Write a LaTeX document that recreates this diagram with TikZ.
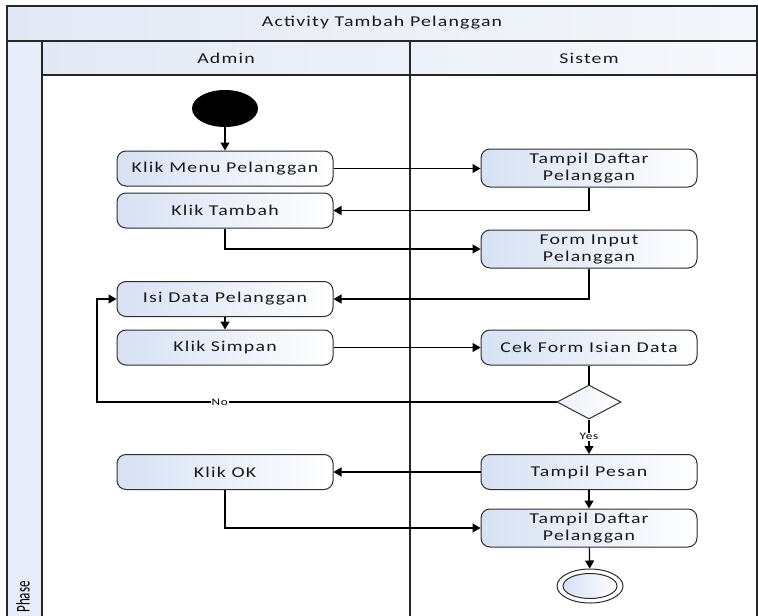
\documentclass[tikz,border=0pt]{standalone}
\usepackage{fontspec}
\usepackage{graphicx}
\setmainfont{Carlito}[FakeStretch=1.32, LetterSpace=8]
\newfontfamily\plainfont{Carlito}
\usetikzlibrary{arrows.meta,shapes.geometric}

\definecolor{actfill}{RGB}{214,225,243}
\definecolor{bandfill}{RGB}{226,233,245}
\definecolor{phasefill}{RGB}{230,237,248}
\definecolor{edgegray}{RGB}{45,45,45}
\definecolor{inkgray}{RGB}{25,25,25}

\tikzset{
  act/.style={draw=edgegray, line width=1pt, rounded corners=9pt,
    minimum width=216pt, minimum height=35pt, inner sep=2pt,
    left color=actfill, right color=white, align=center, text=inkgray,
    font=\fontsize{15}{17}\selectfont},
  flow/.style={line width=1.2pt, -{Triangle[length=8pt,width=9pt]}},
  plain/.style={line width=1.2pt},
  frameline/.style={line width=1.4pt, draw=black!85},
  lanetitle/.style={font=\fontsize{15}{17}\selectfont, text=inkgray},
  guard/.style={font=\fontsize{10}{12}\selectfont, fill=white, inner sep=1pt}
}

\begin{document}
\begin{tikzpicture}[x=1pt,y=-1pt]
\useasboundingbox (0,0) rectangle (758,616);
\begin{scope}
\clip (0,0) rectangle (758,616);

% swimlane frame and headers
\path[left color=bandfill, right color=white!60!bandfill] (7,6) rectangle (757,41);
\path[left color=bandfill, right color=white!70!bandfill] (42,41) rectangle (757,75);
\path[fill=phasefill] (7,41) rectangle (42,620);
\draw[frameline] (7,620) -- (7,6) -- (757,6) -- (757,620);
\draw[frameline] (7,41) -- (757,41);
\draw[frameline] (42,75) -- (757,75);
\draw[frameline] (42,41) -- (42,620);
\draw[frameline] (410,41) -- (410,620);

\node[lanetitle] (title) at (382,23) {Activity Tambah Pelanggan};
\node[lanetitle] (admin) at (226,58) {Admin};
\node[lanetitle] (sistem) at (589,58) {Sistem};
\node[rotate=90, font=\plainfont\fontsize{13}{15}\selectfont, inner sep=0pt] (phase) at (23,597) {\scalebox{1}[1.5]{Phase}};

% start and end states
\node[ellipse, fill=black, minimum width=66pt, minimum height=37pt, inner sep=0pt] (start) at (225,108.5) {};
\node[ellipse, draw=edgegray, line width=1pt, fill=white, minimum width=66pt, minimum height=34pt, inner sep=0pt] (end) at (590,586) {};
\node[ellipse, draw=edgegray, line width=1pt, left color=actfill, right color=white, minimum width=54pt, minimum height=25pt, inner sep=0pt] (endin) at (590,586) {};

% Admin lane actions
\node[act] (menu) at (225,168.5) {Klik Menu Pelanggan};
\node[act] (tambah) at (225,210.5) {Klik Tambah};
\node[act] (isi) at (225,299) {Isi Data Pelanggan};
\node[act] (simpan) at (225,347.5) {Klik Simpan};
\node[act] (ok) at (225,472) {Klik OK};

% Sistem lane actions
\node[act, minimum height=38pt] (daftar) at (589,168) {Tampil Daftar\\Pelanggan};
\node[act, minimum height=38pt] (form) at (589,249) {Form Input\\Pelanggan};
\node[act] (cek) at (589,347.5) {Cek Form Isian Data};
\node[diamond, draw=edgegray, line width=1pt, left color=actfill!50, right color=white,
      minimum width=64pt, minimum height=34pt, inner sep=0pt, aspect=1.9] (dec) at (589,402) {};
\node[act] (pesan) at (589,472) {Tampil Pesan};
\node[act, minimum height=38pt] (daftarb) at (589,528) {Tampil Daftar\\Pelanggan};

\coordinate (loop) at (97,402);

% control flow
\draw[flow] (start) -- (menu);
\draw[flow] (menu.east) -- (menu.east -| daftar.west);
\draw[flow] (daftar.south) |- (tambah.east);
\draw[flow] (tambah.south) |- (form.west);
\draw[flow] (form.south) |- (isi.east);
\draw[flow] (isi) -- (simpan);
\draw[flow] (simpan.east) -- (simpan.east -| cek.west);
\draw[plain] (cek) -- (dec);
\draw[flow] (dec.west) -- node[guard, pos=0.733] {No} (loop) |- (isi.west);
\draw[flow] (dec.south) -- node[guard, pos=0.5] {Yes} (pesan.north);
\draw[flow] (pesan.west) -- (pesan.west -| ok.east);
\draw[flow] (pesan) -- (daftarb);
\draw[flow] (ok.south) |- (daftarb.west);
\draw[flow] (daftarb) -- (end);
\end{scope}
\end{tikzpicture}
\end{document}
